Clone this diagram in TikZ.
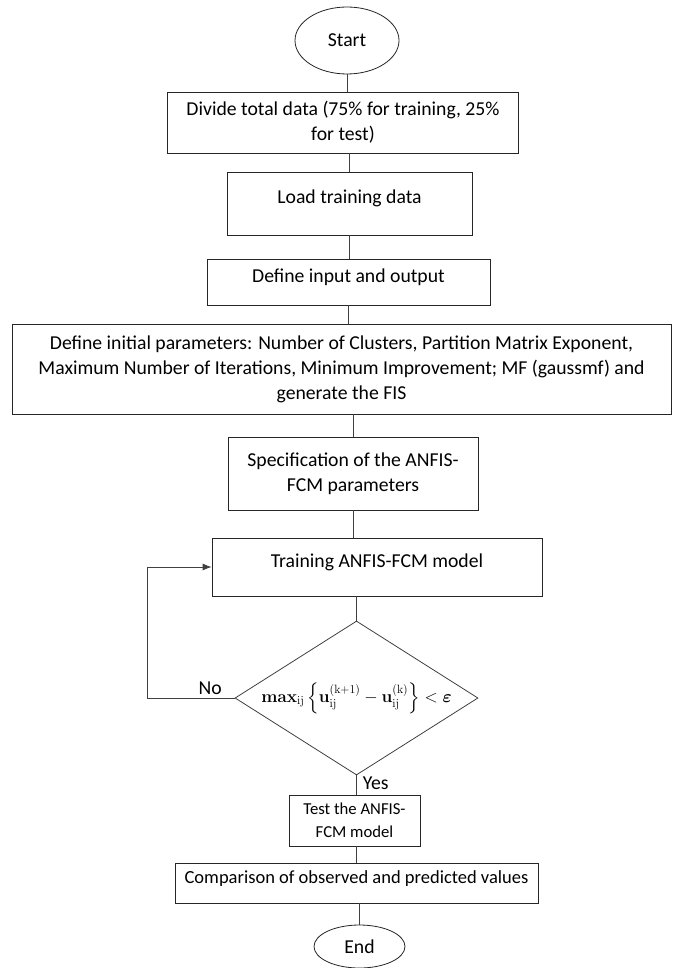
\documentclass[tikz,border=0pt]{standalone}
\usepackage{amsmath}
\usepackage{bm}
\usepackage[no-math]{fontspec}
\setmainfont{Carlito}
\usetikzlibrary{shapes.geometric, arrows.meta}

\begin{document}
\begin{tikzpicture}[x=1pt, y=-1pt,
font=\fontsize{19.7}{25}\selectfont,
square/.style={rectangle, draw=black!85, fill=white, line width=0.8pt, inner sep=3pt, align=center},
one_line/.style={text height=14pt, text depth=13pt},
oval/.style={ellipse, draw=black!85, fill=white, line width=0.8pt, inner sep=0pt},
decision/.style={diamond, aspect=1.58, draw=black!75, fill=white, line width=0.8pt, inner sep=0pt},
plain_line/.style={draw=black!75, line width=0.8pt},
loop_arrow/.style={-{Latex[length=9pt, width=7pt]}, draw=black!75, line width=0.8pt}
]
\useasboundingbox (0,0) rectangle (676,968);

\node[oval, minimum width=104pt, minimum height=67pt](start) at (347,40.5) {Start};
\node[square, minimum width=351pt, minimum height=61pt](divide) at (343,122.5) {Divide total data (75\% for training, 25\%\\for test)};
\node[square, one_line, minimum width=245pt, minimum height=63pt](load) at (349.5,203.5) {Load training data};
\node[square, one_line, minimum width=283pt, minimum height=46pt](define_io) at (348.5,282) {Define input and output};
\node[square, minimum width=659pt, minimum height=90pt](init_params) at (341.5,369) {Define initial parameters: Number of Clusters, Partition Matrix Exponent,\\Maximum Number of Iterations, Minimum Improvement; MF (gaussmf) and\\generate the FIS};
\node[square, minimum width=250pt, minimum height=73pt](spec) at (353,473.5) {Specification of the ANFIS-\\FCM parameters};
\node[square, one_line, minimum width=330pt, minimum height=58pt](training) at (377,567) {Training ANFIS-FCM model};
\node[decision, minimum width=243pt, minimum height=154pt](check) at (356.5,698) {\fontsize{17.28}{20}\selectfont$\mathbf{max}_{\mathrm{ij}}\left\{\mathbf{u}_{\mathrm{ij}}^{(\mathrm{k+1})}-\mathbf{u}_{\mathrm{ij}}^{(\mathrm{k})}\right\}<\boldsymbol{\varepsilon}$};
\node[square, minimum width=131pt, minimum height=51pt, font=\fontsize{16.7}{23}\selectfont](test) at (354.5,820.5) {Test the ANFIS-\\FCM model};
\node[square, one_line, minimum width=363pt, minimum height=40pt, font=\fontsize{18.5}{23}\selectfont](compare) at (356.5,883) {Comparison of observed and predicted values};
\node[oval, minimum width=91pt, minimum height=43pt](finish) at (359.5,946.5) {End};

\draw[plain_line](start.south) -- (start.south |- divide.north);
\draw[plain_line](load.north |- divide.south) -- (load.north);
\draw[plain_line](load.south) -- (load.south |- define_io.north);
\draw[plain_line](define_io.south) -- (define_io.south |- init_params.north);
\draw[plain_line](spec.north |- init_params.south) -- (spec.north);
\draw[plain_line](spec.south) -- (spec.south |- training.north);
\draw[plain_line](check.north |- training.south) -- (check.north);
\draw[plain_line](check.south) -- node[right, pos=0.4, inner sep=6pt]{Yes} (check.south |- test.north);
\draw[plain_line](compare.north |- test.south) -- (compare.north);
\draw[plain_line](finish.north |- compare.south) -- (finish.north);

\draw[loop_arrow](check.west) -- ++(-87,0) node[pos=0.28, above, inner sep=3pt]{No} |- (training.west);

\end{tikzpicture}
\end{document}
